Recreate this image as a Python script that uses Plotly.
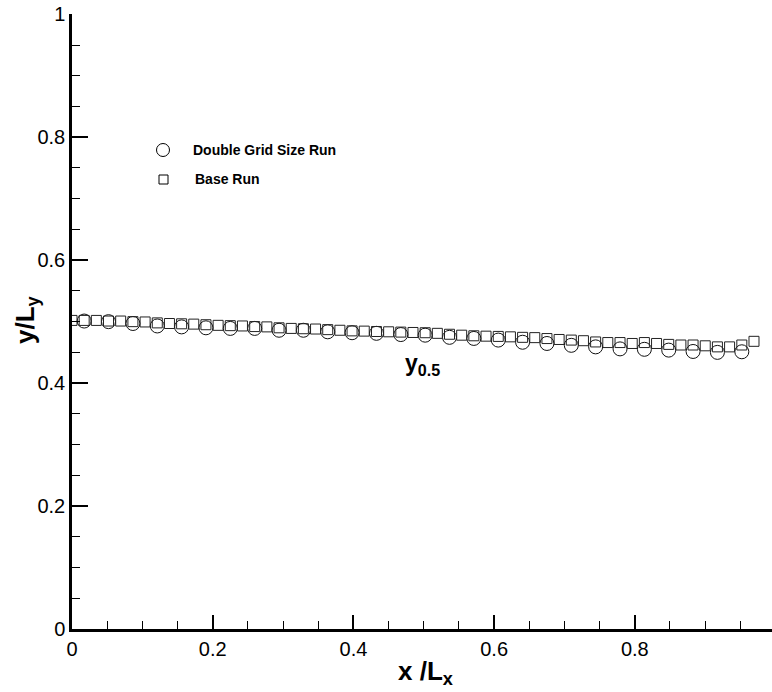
import plotly.graph_objects as go

# Grid-point positions along the channel (x / Lx)
x_base = [0.0, 0.0173, 0.0346, 0.0519, 0.0692, 0.0866, 0.1039, 0.1212, 0.1385, 0.1558,
          0.1731, 0.1904, 0.2077, 0.2250, 0.2423, 0.2597, 0.2770, 0.2943, 0.3116, 0.3289,
          0.3462, 0.3635, 0.3808, 0.3981, 0.4154, 0.4328, 0.4501, 0.4674, 0.4847, 0.5020,
          0.5193, 0.5366, 0.5539, 0.5712, 0.5885, 0.6059, 0.6232, 0.6405, 0.6578, 0.6751,
          0.6924, 0.7097, 0.7270, 0.7443, 0.7616, 0.7790, 0.7963, 0.8136, 0.8309, 0.8482,
          0.8655, 0.8828, 0.9001, 0.9174, 0.9347, 0.9521, 0.9694]
y_base = [0.502, 0.502, 0.502, 0.501, 0.501, 0.500, 0.4995, 0.498, 0.497, 0.4965,
          0.496, 0.495, 0.494, 0.4935, 0.493, 0.492, 0.4915, 0.490, 0.489, 0.4885,
          0.488, 0.487, 0.486, 0.485, 0.4846, 0.484, 0.4835, 0.483, 0.4824, 0.482,
          0.481, 0.4795, 0.478, 0.477, 0.4764, 0.476, 0.4753, 0.4745, 0.474, 0.4725,
          0.471, 0.470, 0.469, 0.467, 0.466, 0.466, 0.4645, 0.466, 0.4645, 0.463,
          0.462, 0.462, 0.4607, 0.459, 0.459, 0.462, 0.468]

x_double = [0.0173, 0.0519, 0.0866, 0.1212, 0.1558, 0.1904, 0.2250, 0.2597, 0.2943, 0.3289,
            0.3635, 0.3981, 0.4328, 0.4674, 0.5020, 0.5366, 0.5712, 0.6059, 0.6405, 0.6751,
            0.7097, 0.7443, 0.7790, 0.8136, 0.8482, 0.8828, 0.9174, 0.9521]
y_double = [0.501, 0.500, 0.497, 0.493, 0.4915, 0.490, 0.489, 0.489, 0.486, 0.486,
            0.4835, 0.482, 0.481, 0.479, 0.478, 0.4745, 0.4727, 0.470, 0.4665, 0.4645,
            0.4615, 0.459, 0.4557, 0.455, 0.4537, 0.4515, 0.450, 0.451]

series_names = ["Double Grid Size Run", "Base Run"]

FONT = "Liberation Sans, Arial, Helvetica, sans-serif"

fig = go.Figure()
fig.add_trace(go.Scatter(
    x=x_double, y=y_double, mode="markers", name=series_names[0],
    marker=dict(symbol="circle-open", size=14, color="#111", line=dict(width=1)),
))
fig.add_trace(go.Scatter(
    x=x_base, y=y_base, mode="markers", name=series_names[1],
    marker=dict(symbol="square-open", size=10, color="#222", line=dict(width=1)),
))

L, R, T, B = 72, 0, 14, 63
W, H = 772, 692
pw, ph = W - L - R, H - T - B


def px_x(p):
    return (p - L) / pw


def px_y(p):
    return (H - B - p) / ph


axis_common = dict(
    showgrid=False, zeroline=False, showline=True, linecolor="black", linewidth=2.5,
    ticks="inside", tickcolor="black", tickwidth=2,
    tickfont=dict(family=FONT, size=20, color="black"),
    minor=dict(dtick=0.05, ticks="inside", ticklen=8, tickwidth=1, tickcolor="black"),
    dtick=0.2, tick0=0,
)

fig.update_layout(
    width=W, height=H,
    margin=dict(l=L, r=R, t=T, b=B),
    plot_bgcolor="white", paper_bgcolor="white",
    showlegend=False,
    xaxis=dict(range=[0, 0.995], ticklen=14, **axis_common),
    yaxis=dict(range=[0, 1.0005], ticklen=16, **axis_common),
)

# Legend key drawn by hand
fig.add_shape(type="circle", xref="paper", yref="paper", xsizemode="pixel", ysizemode="pixel",
              xanchor=px_x(163), yanchor=px_y(150), x0=-6.5, x1=6.5, y0=-6.5, y1=6.5,
              line=dict(color="black", width=1))
fig.add_shape(type="rect", xref="paper", yref="paper", xsizemode="pixel", ysizemode="pixel",
              xanchor=px_x(163.5), yanchor=px_y(179.5), x0=-4.5, x1=4.5, y0=-4.5, y1=4.5,
              line=dict(color="black", width=1))
fig.add_annotation(text="<b>%s</b>" % series_names[0], xref="paper", yref="paper",
                   x=px_x(191), y=px_y(150), xanchor="left", yanchor="middle", showarrow=False,
                   font=dict(family=FONT, size=14, color="black"))
fig.add_annotation(text="<b>%s</b>" % series_names[1], xref="paper", yref="paper",
                   x=px_x(193), y=px_y(179), xanchor="left", yanchor="middle", showarrow=False,
                   font=dict(family=FONT, size=14, color="black"))

# Curve label
fig.add_annotation(text="<b>y<sub>0.5</sub></b>", xref="paper", yref="paper",
                   x=px_x(403), y=px_y(364), xanchor="left", yanchor="middle", showarrow=False,
                   font=dict(family=FONT, size=23, color="black"))

# Axis titles
fig.add_annotation(text="<b>x /L<sub>x</sub></b>", xref="paper", yref="paper",
                   x=px_x(425), y=px_y(672), xanchor="center", yanchor="middle", showarrow=False,
                   font=dict(family=FONT, size=26, color="black"))
fig.add_annotation(text="<b>y/L<sub>y</sub></b>", xref="paper", yref="paper", textangle=-90,
                   x=px_x(26), y=px_y(320), xanchor="center", yanchor="middle", showarrow=False,
                   font=dict(family=FONT, size=26, color="black"))

fig.write_html("out.html")
